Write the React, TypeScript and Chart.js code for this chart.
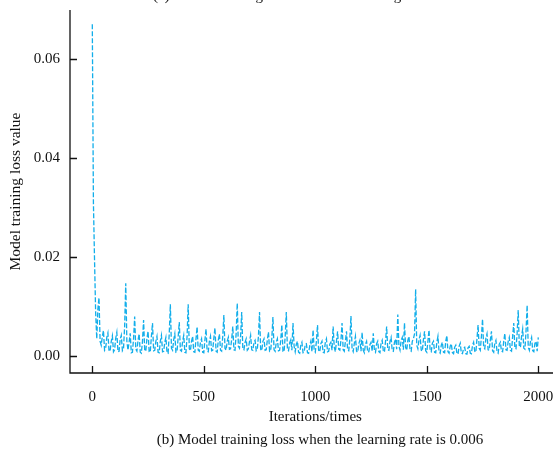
import React, { useEffect, useRef } from "react";
import { Chart, registerables } from "chart.js";

Chart.register(...registerables);

// Iteration step between recorded loss samples
const ITER_STEP = 5;

// Model training loss values (every 5 iterations, 0..2000)
const lossValues: number[] = [
  0.067, 0.031, 0.0195, 0.0088, 0.0035, 0.0095, 0.0118, 0.0030, 0.0022, 0.0040, 0.0052, 0.0012, 0.0016, 0.0038, 0.0047, 0.0010, 0.0011, 0.0030, 0.0041, 0.0009,
  0.0013, 0.0036, 0.0048, 0.0009, 0.0010, 0.0034, 0.0042, 0.0011, 0.0015, 0.0060, 0.0147, 0.0030, 0.0012, 0.0028, 0.0046, 0.0007, 0.0008, 0.0035, 0.0080, 0.0014,
  0.0010, 0.0032, 0.0045, 0.0008, 0.0006, 0.0030, 0.0073, 0.0012, 0.0010, 0.0036, 0.0050, 0.0009, 0.0008, 0.0040, 0.0067, 0.0011, 0.0012, 0.0030, 0.0040, 0.0008,
  0.0007, 0.0030, 0.0042, 0.0009, 0.0010, 0.0028, 0.0038, 0.0007, 0.0006, 0.0045, 0.0105, 0.0016, 0.0012, 0.0033, 0.0045, 0.0008, 0.0009, 0.0038, 0.0069, 0.0012,
  0.0010, 0.0030, 0.0042, 0.0008, 0.0007, 0.0040, 0.0105, 0.0015, 0.0011, 0.0030, 0.0040, 0.0009, 0.0008, 0.0035, 0.0059, 0.0012, 0.0010, 0.0028, 0.0035, 0.0008,
  0.0007, 0.0033, 0.0055, 0.0010, 0.0009, 0.0030, 0.0040, 0.0011, 0.0012, 0.0036, 0.0057, 0.0010, 0.0008, 0.0032, 0.0045, 0.0012, 0.0010, 0.0040, 0.0083, 0.0016,
  0.0012, 0.0030, 0.0038, 0.0014, 0.0015, 0.0034, 0.0060, 0.0013, 0.0012, 0.0045, 0.0107, 0.0020, 0.0016, 0.0040, 0.0089, 0.0015, 0.0013, 0.0028, 0.0035, 0.0012,
  0.0015, 0.0030, 0.0042, 0.0013, 0.0012, 0.0028, 0.0032, 0.0011, 0.0014, 0.0040, 0.0089, 0.0014, 0.0011, 0.0030, 0.0035, 0.0012, 0.0013, 0.0033, 0.0049, 0.0010,
  0.0012, 0.0036, 0.0079, 0.0013, 0.0010, 0.0028, 0.0035, 0.0011, 0.0012, 0.0032, 0.0063, 0.0010, 0.0009, 0.0040, 0.0089, 0.0013, 0.0011, 0.0027, 0.0033, 0.0012,
  0.0067, 0.0020, 0.0009, 0.0024, 0.0030, 0.0008, 0.0006, 0.0022, 0.0028, 0.0007, 0.0008, 0.0024, 0.0025, 0.0007, 0.0006, 0.0021, 0.0030, 0.0009, 0.0053, 0.0012,
  0.0008, 0.0030, 0.0063, 0.0011, 0.0009, 0.0025, 0.0030, 0.0008, 0.0007, 0.0028, 0.0035, 0.0009, 0.0010, 0.0024, 0.0028, 0.0012, 0.0060, 0.0018, 0.0009, 0.0030,
  0.0050, 0.0014, 0.0012, 0.0032, 0.0067, 0.0013, 0.0010, 0.0030, 0.0050, 0.0012, 0.0011, 0.0035, 0.0081, 0.0015, 0.0009, 0.0026, 0.0040, 0.0010, 0.0008, 0.0025,
  0.0032, 0.0010, 0.0048, 0.0012, 0.0007, 0.0024, 0.0030, 0.0008, 0.0009, 0.0023, 0.0028, 0.0010, 0.0046, 0.0012, 0.0008, 0.0025, 0.0030, 0.0009, 0.0007, 0.0026,
  0.0032, 0.0011, 0.0008, 0.0030, 0.0060, 0.0013, 0.0012, 0.0030, 0.0038, 0.0011, 0.0010, 0.0028, 0.0035, 0.0014, 0.0084, 0.0020, 0.0012, 0.0032, 0.0038, 0.0013,
  0.0067, 0.0018, 0.0012, 0.0032, 0.0040, 0.0012, 0.0010, 0.0030, 0.0035, 0.0045, 0.0135, 0.0022, 0.0015, 0.0033, 0.0042, 0.0012, 0.0010, 0.0034, 0.0050, 0.0011,
  0.0008, 0.0030, 0.0053, 0.0011, 0.0009, 0.0026, 0.0030, 0.0008, 0.0007, 0.0028, 0.0040, 0.0009, 0.0006, 0.0022, 0.0028, 0.0008, 0.0007, 0.0030, 0.0042, 0.0009,
  0.0006, 0.0020, 0.0025, 0.0007, 0.0005, 0.0018, 0.0022, 0.0006, 0.0004, 0.0020, 0.0026, 0.0006, 0.0005, 0.0016, 0.0018, 0.0005, 0.0004, 0.0017, 0.0020, 0.0006,
  0.0005, 0.0022, 0.0028, 0.0010, 0.0008, 0.0035, 0.0063, 0.0016, 0.0012, 0.0040, 0.0075, 0.0018, 0.0015, 0.0036, 0.0045, 0.0013, 0.0012, 0.0033, 0.0050, 0.0011,
  0.0008, 0.0026, 0.0032, 0.0009, 0.0006, 0.0024, 0.0028, 0.0010, 0.0009, 0.0030, 0.0046, 0.0013, 0.0012, 0.0030, 0.0038, 0.0012, 0.0010, 0.0040, 0.0067, 0.0016,
  0.0015, 0.0045, 0.0093, 0.0020, 0.0018, 0.0040, 0.0055, 0.0016, 0.0014, 0.0050, 0.0103, 0.0018, 0.0012, 0.0030, 0.0038, 0.0011, 0.0009, 0.0026, 0.0030, 0.0010,
  0.0038,
];

const xTickValues = [0, 500, 1000, 1500, 2000];
const yTickValues = [0, 0.02, 0.04, 0.06];

const xAxisTitle = "Iterations/times";
const yAxisTitle = "Model training loss value";
const topTitle = "(a) Model training loss when the learning rate is 0.001";
const caption = "(b) Model training loss when the learning rate is 0.006";

const FONT = '"Liberation Serif", "Times New Roman", serif';
const LINE_COLOR = "#12aeea";

const framePlugin = {
  id: "frame",
  afterDraw(chart: any) {
    const { ctx, chartArea } = chart;
    const xs = chart.scales.x;
    const ys = chart.scales.y;
    const { left, top, bottom } = chartArea;
    ctx.save();
    ctx.strokeStyle = "#111";
    ctx.lineWidth = 1.3;
    ctx.beginPath();
    ctx.moveTo(left, top);
    ctx.lineTo(left, bottom);
    ctx.lineTo(chart.width, bottom);
    ctx.stroke();
    ctx.beginPath();
    for (const v of xTickValues) {
      const px = Math.round(xs.getPixelForValue(v)) + 0.5;
      ctx.moveTo(px, bottom);
      ctx.lineTo(px, bottom - 7);
    }
    for (const v of yTickValues) {
      const py = Math.round(ys.getPixelForValue(v)) + 0.5;
      ctx.moveTo(left, py);
      ctx.lineTo(left + 7, py);
    }
    ctx.stroke();

    ctx.fillStyle = "#111";
    ctx.font = `15px ${FONT}`;
    ctx.textBaseline = "alphabetic";
    ctx.textAlign = "center";
    ctx.fillText(xAxisTitle, xs.getPixelForValue(1000), 421);
    ctx.fillText(caption, 320, 444);
    ctx.textAlign = "left";
    ctx.fillText(topTitle, 153, 0);

    ctx.font = `15.5px ${FONT}`;
    ctx.translate(20, (top + bottom) / 2);
    ctx.rotate(-Math.PI / 2);
    ctx.textAlign = "center";
    ctx.fillText(yAxisTitle, 0, 0);
    ctx.restore();
  },
};

export default function App() {
  const canvasRef = useRef<HTMLCanvasElement | null>(null);

  useEffect(() => {
    if (!canvasRef.current) return;
    const points = lossValues.map((v, i) => ({ x: i * ITER_STEP, y: v }));
    const chart = new Chart(canvasRef.current, {
      type: "line",
      data: {
        datasets: [
          {
            data: points,
            borderColor: LINE_COLOR,
            borderWidth: 1.3,
            borderDash: [5, 2],
            pointRadius: 0,
            tension: 0,
            fill: false,
          },
        ],
      },
      options: {
        responsive: false,
        animation: false,
        devicePixelRatio: 1,
        layout: { padding: { top: 10, right: 0, left: 0, bottom: 0 } },
        plugins: {
          legend: { display: false },
          tooltip: { enabled: false },
          title: { display: false },
        },
        scales: {
          x: {
            type: "linear",
            min: -100,
            max: 2066,
            border: { display: false },
            grid: { display: false, drawTicks: false },
            afterBuildTicks: (scale: any) => {
              scale.ticks = xTickValues.map((v) => ({ value: v }));
            },
            afterFit: (scale: any) => {
              scale.height = 77;
              scale.paddingLeft = 0;
              scale.paddingRight = 0;
            },
            ticks: {
              padding: 15,
              color: "#111",
              font: { family: FONT, size: 15 },
              maxRotation: 0,
              autoSkip: false,
              callback: (v: any) => String(v),
            },
          },
          y: {
            type: "linear",
            min: -0.0034,
            max: 0.0699,
            border: { display: false },
            grid: { display: false, drawTicks: false },
            afterBuildTicks: (scale: any) => {
              scale.ticks = yTickValues.map((v) => ({ value: v }));
            },
            afterFit: (scale: any) => {
              scale.width = 70;
              scale.paddingTop = 0;
              scale.paddingBottom = 0;
            },
            ticks: {
              padding: 10,
              color: "#111",
              font: { family: FONT, size: 15 },
              autoSkip: false,
              callback: (v: any) => Number(v).toFixed(2),
            },
          },
        },
      },
      plugins: [framePlugin],
    });
    return () => chart.destroy();
  }, []);

  return (
    <div style={{ position: "fixed", left: 0, top: 0, width: 553, height: 450, background: "#fff" }}>
      <canvas ref={canvasRef} width={553} height={450} style={{ display: "block" }} />
    </div>
  );
}
